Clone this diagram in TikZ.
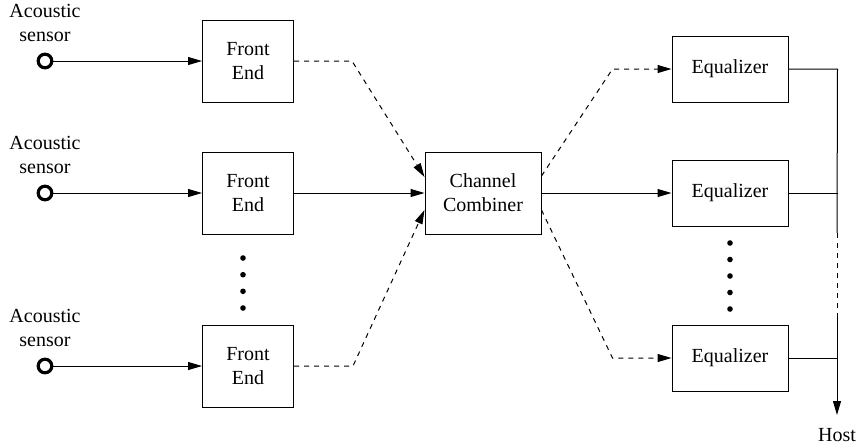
\documentclass[tikz,border=0pt]{standalone}
\usepackage{fontspec}
\setmainfont{Liberation Serif}
\usetikzlibrary{positioning,arrows.meta}

\begin{document}
\begin{tikzpicture}[x=0.5pt, y=-0.5pt, line width=0.5pt,
    bloc/.style={draw, align=center, inner sep=0pt, minimum width=45.5pt, minimum height=41pt},
    eqbloc/.style={draw, inner sep=0pt, minimum width=58pt, minimum height=33pt},
    sensor/.style={draw, circle, line width=1.6pt, inner sep=0pt, minimum size=6.8pt},
    etiq/.style={align=center, inner sep=0pt},
    punt/.style={circle, fill, inner sep=0pt, minimum size=2.8pt},
    fletxa/.style={-{Triangle[length=7pt,width=4pt]}},
    discont/.style={dash pattern=on 2.5pt off 2.5pt}]
    \useasboundingbox (0,0) rectangle (858,447);

    % Sensors i etiquetes
    \node[sensor] (s1) at (45,61) {};
    \node[sensor] (s2) at (45,193) {};
    \node[sensor] (s3) at (45,366) {};
    \foreach \i in {1,2,3}
        \node[etiq, above=5pt of s\i] (l\i) {Acoustic\\sensor};

    % Front ends
    \node[bloc] (fe1) at (248,61) {Front\\End};
    \node[bloc] (fe2) at (248,193) {Front\\End};
    \node[bloc] (fe3) at (248,366) {Front\\End};
    \foreach \i in {1,2,3}
        \draw[fletxa] (s\i) -- (fe\i);
    \foreach \y [count=\k] in {258,274.7,291.3,308}
        \node[punt] (pf\k) at (243,\y) {};

    % Combinador
    \node[bloc, minimum width=58pt] (cc) at (483,193) {Channel\\Combiner};
    \coordinate (c1) at ([xshift=29pt]fe1.east);
    \coordinate (c3) at ([xshift=29.5pt]fe3.east);
    \draw[discont, fletxa] (fe1.east) -- (c1) -- ([yshift=8pt]cc.west);
    \draw[fletxa] (fe2) -- (cc);
    \draw[discont, fletxa] (fe3.east) -- (c3) -- ([yshift=-8.5pt]cc.west);

    % Equalitzadors
    \node[eqbloc] (eq1) at (730,69) {Equalizer};
    \node[eqbloc] (eq2) at (730,193) {Equalizer};
    \node[eqbloc] (eq3) at (730,358) {Equalizer};
    \foreach \y [count=\k] in {243,259.5,276,292.5,309}
        \node[punt] (pe\k) at (730,\y) {};
    \coordinate (d1) at ([xshift=-29.5pt]eq1.west);
    \coordinate (d3) at ([xshift=-29.5pt]eq3.west);
    \draw[discont, fletxa] ([yshift=8.5pt]cc.east) -- (d1) -- (eq1);
    \draw[fletxa] (cc) -- (eq2);
    \draw[discont, fletxa] ([yshift=-8.5pt]cc.east) -- (d3) -- (eq3);

    % Bus cap al host
    \coordinate (b1) at ([xshift=24.5pt]eq1.east);
    \coordinate (b2) at (837,233);
    \coordinate (b3) at (837,315);
    \coordinate (host) at (837,415);
    \draw (eq1.east) -- (b1) -- (b2);
    \draw[discont] (b2) -- (b3);
    \draw[fletxa] (b3) -- (host);
    \draw (eq2.east) -- (eq2.east -| b1);
    \draw (eq3.east) -- (eq3.east -| b1);
    \node[below=3pt of host] (hostlbl) {Host};
\end{tikzpicture}
\end{document}
